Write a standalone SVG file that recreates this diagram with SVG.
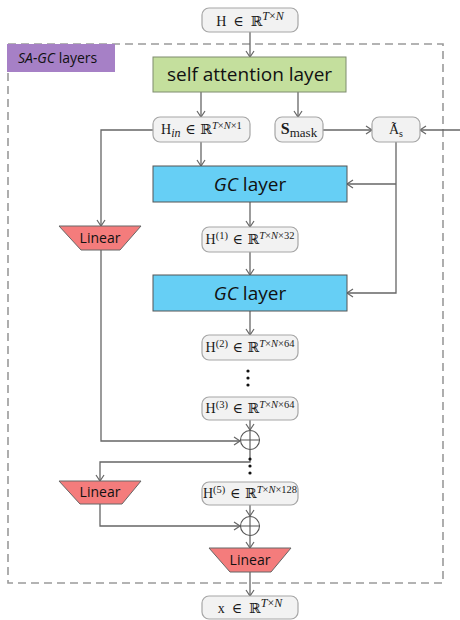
<svg xmlns="http://www.w3.org/2000/svg" width="460" height="620" viewBox="0 0 460 620">
<style>
.bg{fill:#ffffff}
.tensor{fill:#f2f2f2;stroke:#a6a6a6;stroke-width:1.2}
.math{font-family:"Liberation Serif","DejaVu Serif",serif;fill:#1a1a1a;font-size:14px}
.sm{font-size:10.5px}
.it{font-style:italic}
.conn{fill:none;stroke:#666;stroke-width:1.3}
.green{fill:#c4df9d;stroke:#7f8c6f;stroke-width:1}
.blue{fill:#66cff5;stroke:#555;stroke-width:1}
.lin{fill:#f47c7c;stroke:#666;stroke-width:1}
.label{font-family:"Open Sans","Noto Sans",sans-serif;fill:#111}
.plus{fill:#fff;stroke:#555;stroke-width:1.1}
</style>
<defs>
<marker id="arr" viewBox="0 0 10 10" refX="10" refY="5" markerWidth="10" markerHeight="10" markerUnits="userSpaceOnUse" orient="auto">
<path d="M4,1 L10,5 L4,9" fill="none" stroke="#666" stroke-width="1.2"/>
</marker>
</defs>
<rect class="bg" width="460" height="620"/>

<g id="container">
<rect x="8" y="44" width="435" height="539" fill="none" stroke="#9a9a9a" stroke-width="1.6" stroke-dasharray="8,5"/>
<rect x="7" y="44" width="108" height="28" fill="#a680c6"/>
<text x="18" y="63" class="label" font-size="14" fill="#333"><tspan font-style="italic">SA-GC</tspan> layers</text>
</g>

<g id="connectors">
<path class="conn" d="M250,32 V57" marker-end="url(#arr)"/>
<path class="conn" d="M201,92 V117" marker-end="url(#arr)"/>
<path class="conn" d="M298,92 V117" marker-end="url(#arr)"/>
<path class="conn" d="M323,130 H372" marker-end="url(#arr)"/>
<path class="conn" d="M460,130 H420" marker-end="url(#arr)"/>
<path class="conn" d="M201,142 V166" marker-end="url(#arr)"/>
<path class="conn" d="M153,130 H101 V226" marker-end="url(#arr)"/>
<path class="conn" d="M396,142 V293 H347" marker-end="url(#arr)"/>
<path class="conn" d="M396,184 H347" marker-end="url(#arr)"/>
<path class="conn" d="M250,202 V227" marker-end="url(#arr)"/>
<path class="conn" d="M250,252 V275" marker-end="url(#arr)"/>
<path class="conn" d="M250,311 V335" marker-end="url(#arr)"/>
<path class="conn" d="M250,420 V430" marker-end="url(#arr)"/>
<path class="conn" d="M101,250 V441 H240" marker-end="url(#arr)"/>
<path class="conn" d="M250,450 V462 H100 V481" marker-end="url(#arr)"/>
<path class="conn" d="M100,504 V526 H240" marker-end="url(#arr)"/>
<path class="conn" d="M250,505 V516" marker-end="url(#arr)"/>
<path class="conn" d="M250,536 V548" marker-end="url(#arr)"/>
<path class="conn" d="M250,572 V596" marker-end="url(#arr)"/>
</g>

<g id="input">
<rect class="tensor" x="202" y="8" width="96" height="24" rx="7"/>
<text class="math" x="250" y="26" text-anchor="middle" font-size="16">H&#8194;∈&#8194;ℝ<tspan dy="-6" class="it" font-size="12">T</tspan><tspan font-size="12">×</tspan><tspan class="it" font-size="12">N</tspan></text>
</g>

<g id="self-attention">
<rect class="green" x="153" y="57" width="193" height="35"/>
<text class="label" x="249.5" y="81" text-anchor="middle" font-size="19">self attention layer</text>
</g>

<g id="h-in">
<rect class="tensor" x="153" y="117" width="97" height="25" rx="7"/>
<text class="math" x="201.5" y="134" text-anchor="middle" font-size="14">H<tspan dy="3" class="it" font-size="12">in</tspan><tspan dy="-3">&#8196;∈&#8196;ℝ</tspan><tspan dy="-5" class="sm it">T</tspan><tspan class="sm">×</tspan><tspan class="sm it">N</tspan><tspan class="sm">×1</tspan></text>
</g>

<g id="s-mask">
<rect class="tensor" x="275" y="117" width="48" height="25" rx="7"/>
<text class="math" x="299" y="134" text-anchor="middle"><tspan font-weight="bold" font-size="16">S</tspan><tspan dy="3" font-size="13">mask</tspan></text>
</g>

<g id="a-s">
<rect class="tensor" x="372" y="117" width="48" height="25" rx="7"/>
<text class="math" x="396" y="134" text-anchor="middle" font-size="13">Ã<tspan dy="3" font-size="10">s</tspan></text>
</g>

<g id="gc-layer-1">
<rect class="blue" x="153" y="166" width="194" height="36"/>
<text class="label" x="250" y="191" text-anchor="middle" font-size="19"><tspan font-style="italic">GC</tspan> layer</text>
</g>

<g id="linear-1">
<polygon class="lin" points="59,226 141,226 120,250 81,250"/>
<text class="label" x="100" y="243" text-anchor="middle" font-size="14">Linear</text>
</g>

<g id="h1">
<rect class="tensor" x="202" y="227" width="96" height="25" rx="7"/>
<text class="math" x="250" y="244" text-anchor="middle" font-size="13.5">H<tspan dy="-5" class="sm">(1)</tspan><tspan dy="5">&#8196;∈&#8196;ℝ</tspan><tspan dy="-5" class="sm it">T</tspan><tspan class="sm">×</tspan><tspan class="sm it">N</tspan><tspan class="sm">×32</tspan></text>
</g>

<g id="gc-layer-2">
<rect class="blue" x="153" y="275" width="194" height="36"/>
<text class="label" x="250" y="300" text-anchor="middle" font-size="19"><tspan font-style="italic">GC</tspan> layer</text>
</g>

<g id="h2">
<rect class="tensor" x="202" y="335" width="96" height="25" rx="7"/>
<text class="math" x="250" y="352" text-anchor="middle" font-size="13.5">H<tspan dy="-5" class="sm">(2)</tspan><tspan dy="5">&#8196;∈&#8196;ℝ</tspan><tspan dy="-5" class="sm it">T</tspan><tspan class="sm">×</tspan><tspan class="sm it">N</tspan><tspan class="sm">×64</tspan></text>
</g>

<g id="dots-1" fill="#111">
<circle cx="248" cy="371" r="1.6"/>
<circle cx="248" cy="378" r="1.6"/>
<circle cx="248" cy="385" r="1.6"/>
</g>

<g id="h3">
<rect class="tensor" x="202" y="397" width="96" height="23" rx="7"/>
<text class="math" x="250" y="413" text-anchor="middle" font-size="13.5">H<tspan dy="-5" class="sm">(3)</tspan><tspan dy="5">&#8196;∈&#8196;ℝ</tspan><tspan dy="-5" class="sm it">T</tspan><tspan class="sm">×</tspan><tspan class="sm it">N</tspan><tspan class="sm">×64</tspan></text>
</g>

<g id="add-1">
<circle class="plus" cx="250" cy="440" r="9.5"/>
<path d="M240.5,440 H259.5 M250,430.5 V449.5" stroke="#555" stroke-width="1.1"/>
</g>

<g id="dots-2" fill="#111">
<circle cx="250" cy="459" r="1.6"/>
<circle cx="250" cy="466" r="1.6"/>
<circle cx="250" cy="473" r="1.6"/>
</g>

<g id="linear-2">
<polygon class="lin" points="59,481 141,481 122,504 80,504"/>
<text class="label" x="100" y="497" text-anchor="middle" font-size="14">Linear</text>
</g>

<g id="h5">
<rect class="tensor" x="202" y="482" width="96" height="23" rx="7"/>
<text class="math" x="250" y="498" text-anchor="middle" font-size="13.5">H<tspan dy="-5" class="sm">(5)</tspan><tspan dy="5">&#8196;∈&#8196;ℝ</tspan><tspan dy="-5" class="sm it">T</tspan><tspan class="sm">×</tspan><tspan class="sm it">N</tspan><tspan class="sm">×128</tspan></text>
</g>

<g id="add-2">
<circle class="plus" cx="250" cy="526" r="9.5"/>
<path d="M240.5,526 H259.5 M250,516.5 V535.5" stroke="#555" stroke-width="1.1"/>
</g>

<g id="linear-3">
<polygon class="lin" points="209,548 291,548 271,572 230,572"/>
<text class="label" x="250" y="565" text-anchor="middle" font-size="14">Linear</text>
</g>

<g id="output">
<rect class="tensor" x="202" y="596" width="96" height="23" rx="7"/>
<text class="math" x="250" y="613" text-anchor="middle" font-size="16">x&#8194;∈&#8194;ℝ<tspan dy="-6" class="it" font-size="12">T</tspan><tspan font-size="12">×</tspan><tspan class="it" font-size="12">N</tspan></text>
</g>
</svg>
